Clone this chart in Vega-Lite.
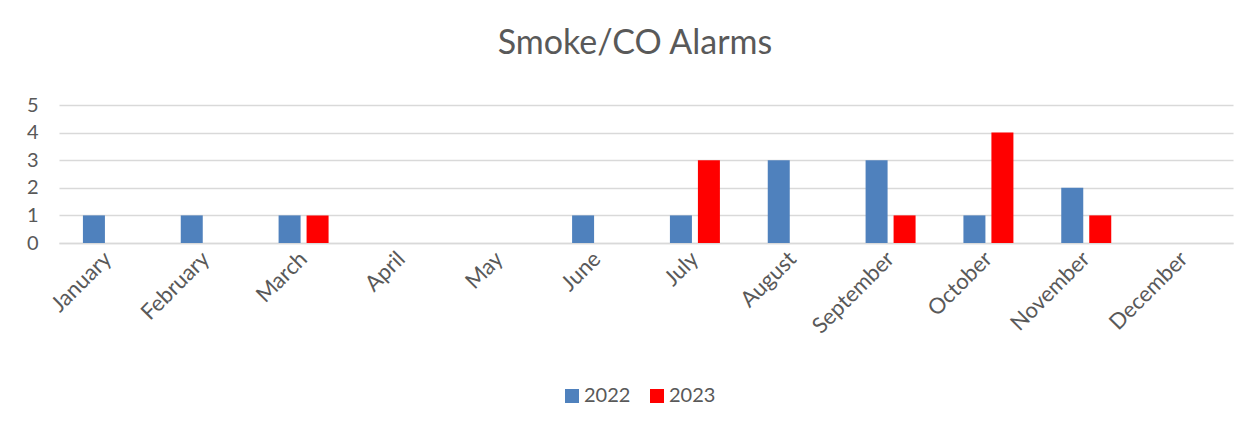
{
  "$schema": "https://vega.github.io/schema/vega-lite/v6.json",
  "autosize": "none",
  "width": 1174,
  "height": 138,
  "padding": {"left": 59, "top": 105, "right": 20, "bottom": 191},
  "background": "white",
  "config": {
    "font": "Lato",
    "view": {"stroke": null}
  },
  "title": {
    "text": "Smoke/CO Alarms",
    "fontSize": 34,
    "fontWeight": "normal",
    "color": "#595959",
    "anchor": "middle",
    "dx": -11,
    "offset": 34
  },
  "data": {
    "values": [
      {"month": "January", "year": "2022", "count": 1},
      {"month": "January", "year": "2023", "count": 0},
      {"month": "February", "year": "2022", "count": 1},
      {"month": "February", "year": "2023", "count": 0},
      {"month": "March", "year": "2022", "count": 1},
      {"month": "March", "year": "2023", "count": 1},
      {"month": "April", "year": "2022", "count": 0},
      {"month": "April", "year": "2023", "count": 0},
      {"month": "May", "year": "2022", "count": 0},
      {"month": "May", "year": "2023", "count": 0},
      {"month": "June", "year": "2022", "count": 1},
      {"month": "June", "year": "2023", "count": 0},
      {"month": "July", "year": "2022", "count": 1},
      {"month": "July", "year": "2023", "count": 3},
      {"month": "August", "year": "2022", "count": 3},
      {"month": "August", "year": "2023", "count": 0},
      {"month": "September", "year": "2022", "count": 3},
      {"month": "September", "year": "2023", "count": 1},
      {"month": "October", "year": "2022", "count": 1},
      {"month": "October", "year": "2023", "count": 4},
      {"month": "November", "year": "2022", "count": 2},
      {"month": "November", "year": "2023", "count": 1},
      {"month": "December", "year": "2022", "count": 0},
      {"month": "December", "year": "2023", "count": 0}
    ]
  },
  "mark": {"type": "bar"},
  "encoding": {
    "x": {
      "field": "month",
      "type": "nominal",
      "sort": ["January","February","March","April","May","June","July","August","September","October","November","December"],
      "scale": {"paddingInner": 0.489, "paddingOuter": 0.2445},
      "axis": {
        "title": null,
        "labelAngle": -45,
        "labelAlign": "right",
        "labelBaseline": "middle",
        "labelFontSize": 22,
        "labelColor": "#595959",
        "labelPadding": 12,
        "ticks": false,
        "domainColor": "#d9d9d9",
        "domainWidth": 1.5,
        "grid": false
      }
    },
    "xOffset": {
      "field": "year",
      "type": "nominal",
      "scale": {"paddingInner": 0.214, "paddingOuter": 0}
    },
    "y": {
      "field": "count",
      "type": "quantitative",
      "scale": {"domain": [0, 5], "nice": false},
      "axis": {
        "title": null,
        "values": [0, 1, 2, 3, 4, 5],
        "labelFontSize": 20,
        "labelColor": "#595959",
        "labelPadding": 21,
        "ticks": false,
        "domain": false,
        "gridColor": "#d9d9d9",
        "gridWidth": 1.5
      }
    },
    "color": {
      "field": "year",
      "type": "nominal",
      "scale": {"domain": ["2022", "2023"], "range": ["#4F81BD", "#FF0000"]},
      "legend": {
        "title": null,
        "orient": "none",
        "direction": "horizontal",
        "legendX": 503,
        "legendY": 281,
        "symbolType": "square",
        "symbolSize": 196,
        "symbolStrokeWidth": 0,
        "labelFontSize": 20,
        "labelColor": "#595959",
        "labelOffset": 2,
        "columnPadding": 16
      }
    }
  }
}
